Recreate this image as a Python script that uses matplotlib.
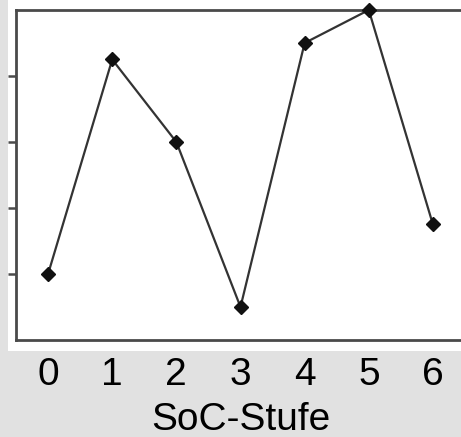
import matplotlib.pyplot as plt
from matplotlib.patches import Rectangle

# SoC levels and measured values (axis has no labelled units)
soc_stufe = [0, 1, 2, 3, 4, 5, 6]
werte = [1.0, 4.25, 3.0, 0.5, 4.5, 5.0, 1.75]
y_ticks = [1, 2, 3, 4]

W, H = 461, 437
fig = plt.figure(figsize=(W / 100, H / 100), dpi=100, facecolor='#e1e1e1')

# white panel behind the plot (the source image is a crop)
fig.patches.append(Rectangle((8 / W, 1 - 351 / H), 1, 351 / H,
                             transform=fig.transFigure, facecolor='white',
                             edgecolor='none', zorder=-5))

ax = fig.add_axes([16 / W, (H - 340) / H, (465 - 16) / W, 330 / H])
ax.set_zorder(2)
ax.set_facecolor('white')
ax.plot(soc_stufe, werte, color='#333333', lw=1.6, marker='D', ms=7.5,
        mfc='#111111', mec='#111111', clip_on=False, zorder=3)

ax.set_xlim(-0.5, 6.5)
ax.set_ylim(0, 5)
ax.set_xticks(soc_stufe)
ax.set_yticks(y_ticks)
ax.set_yticklabels([])

for side in ['top', 'bottom', 'left', 'right']:
    ax.spines[side].set_color('#4a4a4a')
    ax.spines[side].set_linewidth(2)

ax.tick_params(axis='x', length=0, pad=12, labelsize=28)
ax.tick_params(axis='y', direction='out', length=6, width=1.8, color='#4a4a4a')
for lab in ax.get_xticklabels():
    lab.set_family('Liberation Sans')
ax.set_xlabel('SoC-Stufe', fontsize=28, family='Liberation Sans', labelpad=7)

fig.savefig('out.png', dpi=100, facecolor=fig.get_facecolor())
